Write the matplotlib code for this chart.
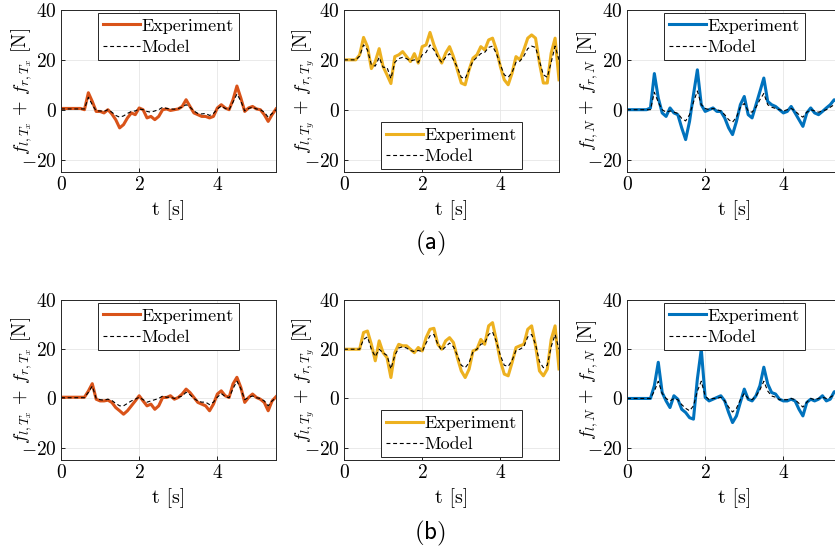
import numpy as np
import matplotlib
matplotlib.use('Agg')
import matplotlib.pyplot as plt

plt.rcParams['font.family'] = 'serif'
plt.rcParams['font.serif'] = ['cmr10']
plt.rcParams['mathtext.fontset'] = 'cm'
plt.rcParams['axes.formatter.use_mathtext'] = True

# time base [s], 0.1 s steps
t = np.round(np.arange(0, 5.51, 0.1), 2)

# (a) measured / model forces [N]
a_tx_exp = [0.5, 0.5, 0.5, 0.5, 0.5, 0.5, 0.0, 6.8, 3.3, -0.7, -0.7, -1.3, 0.0, -1.7, -4.0,
            -7.3, -6.0, -3.3, -1.3, -2.0, 0.7, 0.0, -3.3, -2.7, -4.0, -2.7, 0.0, 0.3, -0.3,
            0.0, 0.3, 1.3, 4.0, 1.3, -1.3, -2.0, -2.7, -2.7, -3.3, -2.7, 0.7, 2.0, 0.7, 0.0,
            4.0, 9.5, 4.7, -0.7, 0.7, 1.3, 0.3, 0.0, -2.0, -4.7, -2.0, 0.3]
a_tx_mod = [0.3, 0.3, 0.3, 0.3, 0.3, 0.3, 0.3, 5.0, 2.0, -0.5, -0.5, -0.7, 0.0, -1.0, -2.3,
            -3.0, -2.5, -1.5, -0.7, -0.5, 0.3, 0.0, -0.7, -1.0, -0.5, 0.0, 1.0, 0.5, 0.3,
            0.2, 0.5, 1.0, 2.0, 1.0, -0.5, -1.5, -1.7, -1.5, -2.3, -1.5, 0.3, 1.5, 0.5, 0.0,
            3.0, 6.3, 3.5, -0.5, 0.5, 1.0, 0.3, 0.0, -1.0, -3.0, -1.5, 0.0]
a_ty_exp = [20.0, 20.0, 20.0, 20.0, 22.0, 29.0, 25.3, 16.5, 19.3, 24.5, 17.3, 14.0, 10.5, 21.3,
            22.0, 23.3, 21.3, 19.3, 22.5, 18.7, 25.3, 26.0, 31.0, 26.0, 22.0, 18.7, 22.7, 25.3,
            21.3, 16.0, 10.7, 10.0, 16.0, 20.7, 22.0, 25.3, 24.0, 28.0, 28.7, 24.0, 17.3, 12.0,
            10.0, 14.7, 21.3, 20.0, 24.0, 28.7, 30.0, 28.7, 18.7, 10.7, 10.7, 22.7, 28.7, 12.0]
a_ty_mod = [20.0, 20.0, 20.0, 20.0, 21.5, 26.0, 24.0, 18.0, 17.5, 21.0, 17.0, 17.0, 12.5, 19.0,
            20.5, 21.0, 20.5, 19.5, 20.0, 19.0, 22.0, 23.0, 26.0, 24.0, 21.0, 19.0, 21.0, 22.5,
            20.0, 17.0, 13.0, 12.5, 16.0, 19.5, 21.0, 22.5, 23.0, 25.0, 25.5, 22.5, 18.0, 14.0,
            13.0, 15.0, 19.0, 19.5, 21.5, 24.5, 25.5, 25.0, 19.5, 14.0, 13.0, 19.0, 25.5, 20.0]
a_n_exp = [0.0, 0.0, 0.0, 0.0, 0.0, 0.0, 0.7, 14.5, 4.7, -1.3, -2.7, 0.7, -1.3, -2.0, -7.3,
           -12.0, -4.7, 6.0, 16.0, 2.0, -0.7, 0.0, 0.7, -0.7, -0.7, -3.3, -7.3, -10.0, -4.7,
           2.0, 5.3, -2.0, -3.3, 2.0, 7.3, 12.7, 3.3, 2.0, 1.3, 0.0, -1.3, -0.7, 1.3, -1.3,
           -4.0, -6.7, -1.3, 0.7, -1.3, -2.0, -0.7, 0.7, 2.0, 4.0, 3.0, 3.0]
a_n_mod = [0.0, 0.0, 0.0, 0.0, 0.0, 0.0, 0.0, 7.0, 3.0, 0.0, -1.0, -0.5, -1.0, -1.5, -3.5,
           -4.5, -2.0, 3.0, 7.5, 2.0, 0.5, 0.0, 0.5, 0.0, -0.5, -2.0, -4.0, -5.0, -3.0, 1.0,
           2.5, -0.5, -1.0, 1.0, 4.0, 6.5, 2.0, 1.0, 0.5, 0.0, -0.5, 0.0, 0.5, -0.5, -2.0,
           -3.0, -1.0, 0.0, -0.5, -1.0, -0.5, 0.0, 1.0, 2.0, 2.5, 2.5]

# (b) measured / model forces [N]
b_tx_exp = [0.5, 0.5, 0.5, 0.5, 0.5, 0.5, 0.5, 3.0, 6.0, -0.3, -1.0, -1.0, -0.7, -1.6, -3.7,
            -5.0, -6.4, -5.0, -3.0, -1.0, 1.1, -1.0, -3.0, -2.3, -4.4, -3.0, 0.4, 0.4, 1.1,
            -0.3, 0.4, 1.8, 3.8, 2.4, 0.4, -1.6, -2.3, -3.0, -5.0, -2.3, 1.8, 3.1, 1.1, 0.4,
            5.9, 8.6, 4.5, -1.6, 0.4, 1.8, 0.4, -0.3, -1.6, -5.0, -1.0, 0.7]
b_tx_mod = [0.3, 0.3, 0.3, 0.3, 0.3, 0.3, 0.3, 2.5, 5.0, 0.0, -0.5, -0.7, -0.3, -0.8, -2.0,
            -3.0, -3.0, -2.0, -1.0, -0.3, 0.5, -0.5, -1.5, -1.0, -0.5, 0.0, 1.0, 0.5, 0.5,
            0.0, 0.5, 1.0, 2.5, 1.5, 0.0, -1.0, -1.5, -1.5, -2.5, -1.5, 0.5, 2.0, 0.8, 0.3,
            4.0, 7.0, 4.0, -0.5, 0.5, 1.0, 0.3, 0.0, -1.0, -3.0, -1.0, 0.3]
b_ty_exp = [20.0, 20.0, 20.0, 20.0, 20.0, 26.8, 27.4, 22.0, 15.3, 23.4, 18.6, 16.6, 8.5, 18.6,
            22.0, 21.4, 21.4, 20.0, 18.6, 20.7, 19.3, 24.7, 28.1, 28.5, 22.0, 20.0, 23.4, 24.7,
            22.7, 16.6, 11.2, 8.5, 11.9, 19.3, 20.0, 24.0, 22.0, 29.5, 30.8, 23.4, 15.3, 9.9,
            9.2, 14.6, 20.7, 21.4, 22.0, 28.1, 29.5, 21.4, 11.2, 9.2, 11.9, 24.0, 29.5, 12.0]
b_ty_mod = [20.0, 20.0, 20.0, 20.0, 20.0, 24.0, 25.0, 20.0, 17.0, 20.0, 18.5, 17.5, 12.0, 17.5,
            20.5, 21.0, 20.5, 19.5, 19.0, 19.5, 19.0, 22.5, 25.5, 26.0, 22.0, 19.5, 21.0, 22.5,
            21.0, 17.5, 13.5, 12.5, 14.5, 19.0, 20.0, 22.0, 22.5, 26.0, 27.0, 23.0, 17.5, 13.5,
            13.0, 15.5, 19.5, 20.0, 21.0, 25.0, 26.0, 22.0, 15.0, 12.5, 13.5, 21.0, 26.0, 20.0]
b_n_exp = [0.0, 0.0, 0.0, 0.0, 0.0, 0.0, 0.0, 5.2, 14.7, 2.4, -1.0, -3.7, 1.1, -0.3, -4.4,
           -5.7, -7.8, -8.4, 7.9, 20.0, 0.4, -1.0, -0.3, 0.4, 1.1, -1.0, -5.7, -9.8, -7.1,
           -1.6, 3.8, -0.3, -1.0, 1.1, 5.2, 12.7, 5.9, 2.4, 1.8, -0.3, -1.0, -1.0, -0.3,
           -1.0, -4.4, -7.1, -1.6, -0.3, -1.0, -0.3, 1.1, -1.0, -0.3, 2.7, 3.0, 3.0]
b_n_mod = [0.0, 0.0, 0.0, 0.0, 0.0, 0.0, 0.0, 3.0, 7.0, 2.0, 0.0, -1.0, 0.0, -0.5, -2.5, -4.0,
           -5.0, -3.0, 3.0, 7.0, 1.0, -0.5, 0.0, 0.0, 0.5, -1.0, -3.5, -5.5, -4.0, -0.5, 2.0,
           0.0, -0.5, 1.0, 3.5, 7.0, 3.0, 1.0, 0.5, -0.5, -0.5, -0.5, 0.0, -0.5, -2.0, -3.5,
           -1.5, 0.0, -0.5, 0.0, 0.5, 0.0, 0.5, 1.5, 2.5, 2.5]

colors = ['#D95319', '#EDB120', '#0072BD']
ylabels = [r'$f_{l,T_x}\,+\,f_{r,T_x}$ [N]',
           r'$f_{l,T_y}\,+\,f_{r,T_y}$ [N]',
           r'$f_{l,N}\,+\,f_{r,N}$ [N]']
legend_loc = ['upper center', 'lower center', 'upper center']

rows = [[(a_tx_exp, a_tx_mod), (a_ty_exp, a_ty_mod), (a_n_exp, a_n_mod)],
        [(b_tx_exp, b_tx_mod), (b_ty_exp, b_ty_mod), (b_n_exp, b_n_mod)]]

W, H = 835, 553
fig = plt.figure(figsize=(W / 100, H / 100), dpi=100)

lefts = [61, 344, 627]
row_box = [(10, 172), (300, 460)]
for r, row in enumerate(rows):
    top, bot = row_box[r]
    for c, (exp, mod) in enumerate(row):
        ax = fig.add_axes([lefts[c] / W, 1 - bot / H, 215 / W, (bot - top) / H])
        ax.plot(t, exp, color=colors[c], lw=2.2, label='Experiment')
        ax.plot(t, mod, 'k--', lw=0.8, dashes=(3.5, 2.5), label='Model')
        ax.set_xlim(0, 5.5)
        ax.set_ylim(-25, 40)
        ax.set_xticks([0, 2, 4])
        ax.set_yticks([-20, 0, 20, 40])
        ax.grid(True, color='#e6e6e6', lw=0.6)
        ax.set_axisbelow(True)
        ax.tick_params(direction='in', length=3, labelsize=14, width=0.6, pad=3)
        for s in ax.spines.values():
            s.set_linewidth(0.7)
            s.set_color('#262626')
        ax.set_ylabel(ylabels[c], fontsize=13.5)
        ax.yaxis.set_label_coords(-0.125, 0.5)
        ax.set_xlabel('t [s]', fontsize=14.5, labelpad=4)
        leg = ax.legend(loc=legend_loc[c], fontsize=13, fancybox=False,
                        framealpha=1, edgecolor='#262626', handlelength=2.0,
                        borderpad=0.3, labelspacing=0.3, handletextpad=0.1,
                        borderaxespad=0.15)
        leg.get_frame().set_linewidth(0.7)

fig.text(430 / W, 1 - 243 / H, r'$\mathsf{(a)}$', fontsize=18, ha='center', va='center')
fig.text(430 / W, 1 - 533 / H, r'$\mathsf{(b)}$', fontsize=18, ha='center', va='center')

fig.savefig('out.png', dpi=100)
